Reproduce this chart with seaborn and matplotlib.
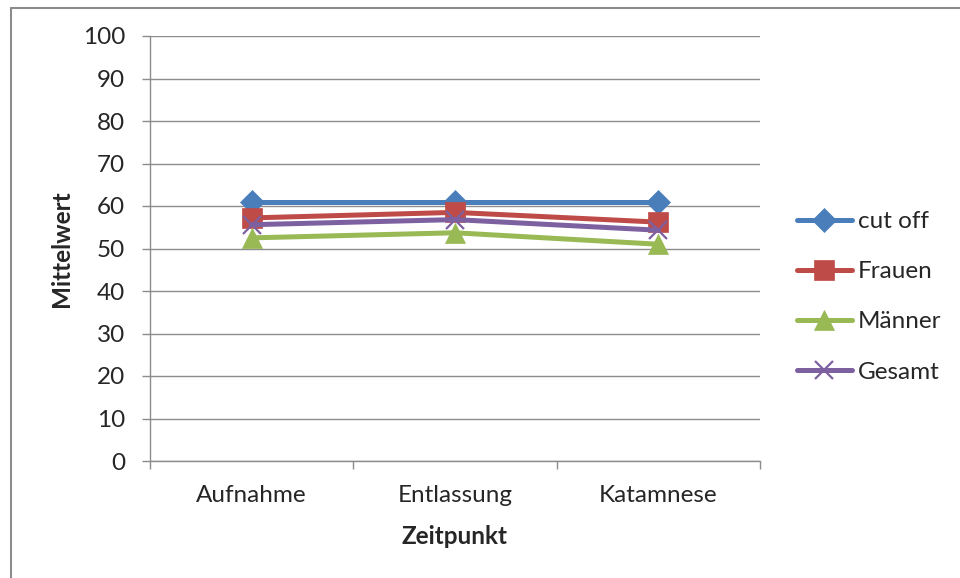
import matplotlib
matplotlib.use("Agg")
import matplotlib.pyplot as plt
from matplotlib.lines import Line2D
import seaborn as sns
import pandas as pd

# Data
zeitpunkte = ["Aufnahme", "Entlassung", "Katamnese"]
cut_off = [61.0, 61.0, 61.0]
frauen = [57.2, 58.5, 56.2]
maenner = [52.5, 53.7, 51.0]
gesamt = [55.6, 56.8, 54.3]

series_names = ["cut off", "Frauen", "Männer", "Gesamt"]
series_values = [cut_off, frauen, maenner, gesamt]
colors = ["#4A7EBB", "#BE4B48", "#98B954", "#7D60A0"]
markers = ["D", "s", "^", "x"]
marker_sizes = [12.5, 14, 14, 13]

sns.set_theme(style="white")
plt.rcParams["font.family"] = ["Lato", "DejaVu Sans"]
FS = 17.5

rows = []
for name, vals in zip(series_names, series_values):
    for i, (zp, v) in enumerate(zip(zeitpunkte, vals)):
        rows.append({"Serie": name, "pos": i, "Zeitpunkt": zp, "Mittelwert": v})
df = pd.DataFrame(rows)

W, H = 960, 578
fig = plt.figure(figsize=(W / 100, H / 100), dpi=100)
ax = fig.add_axes([150 / W, (H - 461) / H, 610 / W, 425 / H])

for name, col, mk, ms in zip(series_names, colors, markers, marker_sizes):
    sub = df[df["Serie"] == name]
    sns.lineplot(data=sub, x="pos", y="Mittelwert", ax=ax, color=col,
                 linewidth=3.6, marker=mk, markersize=ms,
                 markeredgecolor=col, markeredgewidth=1.6 if mk == "x" else 0.5,
                 label=name, legend=False, zorder=3)

ax.set_xlim(-0.5, 2.5)
ax.set_ylim(0, 100)
ax.set_yticks(range(0, 101, 10))
ax.yaxis.grid(True, color="#8C8C8C", linewidth=1.0)
ax.set_axisbelow(True)

# category ticks between groups, labels centred on groups
ax.set_xticks([-0.5, 0.5, 1.5, 2.5])
ax.set_xticklabels([])
ax.set_xticks([0, 1, 2], minor=True)
ax.set_xticklabels(zeitpunkte, minor=True, fontsize=FS)
ax.tick_params(axis="x", which="major", length=6, width=1, color="#8C8C8C",
               direction="out", bottom=True)
ax.tick_params(axis="x", which="minor", length=0, pad=17)
ax.tick_params(axis="y", length=6, width=1, color="#8C8C8C", direction="out",
               left=True, labelsize=FS, pad=12)

for s in ["top", "right"]:
    ax.spines[s].set_visible(False)
for s in ["left", "bottom"]:
    ax.spines[s].set_color("#8C8C8C")
    ax.spines[s].set_linewidth(1.0)

ax.set_xlabel("Zeitpunkt", fontsize=FS, fontweight="bold", labelpad=14)
ax.set_ylabel("Mittelwert", fontsize=FS, fontweight="bold", labelpad=7)

handles = [Line2D([0], [0], color=c, linewidth=3.6, marker=m, markersize=ms,
                  markeredgecolor=c, markeredgewidth=1.6 if m == "x" else 0.5)
           for c, m, ms in zip(colors, markers, marker_sizes)]
fig.legend(handles, series_names, loc="upper left",
           bbox_to_anchor=(797 / W, 1 - 211 / H), frameon=False,
           fontsize=FS, handlelength=2.26, handletextpad=0.25,
           labelspacing=1.2, borderaxespad=0, borderpad=0)

# outer chart frame
fig.add_artist(Line2D([10.5 / W, 1.0], [1 - 7.5 / H, 1 - 7.5 / H],
                      transform=fig.transFigure, color="#8C8C8C", linewidth=1.5))
fig.add_artist(Line2D([10.5 / W, 10.5 / W], [0.0, 1 - 7.5 / H],
                      transform=fig.transFigure, color="#8C8C8C", linewidth=1.5))

fig.savefig("out.png", dpi=100)
